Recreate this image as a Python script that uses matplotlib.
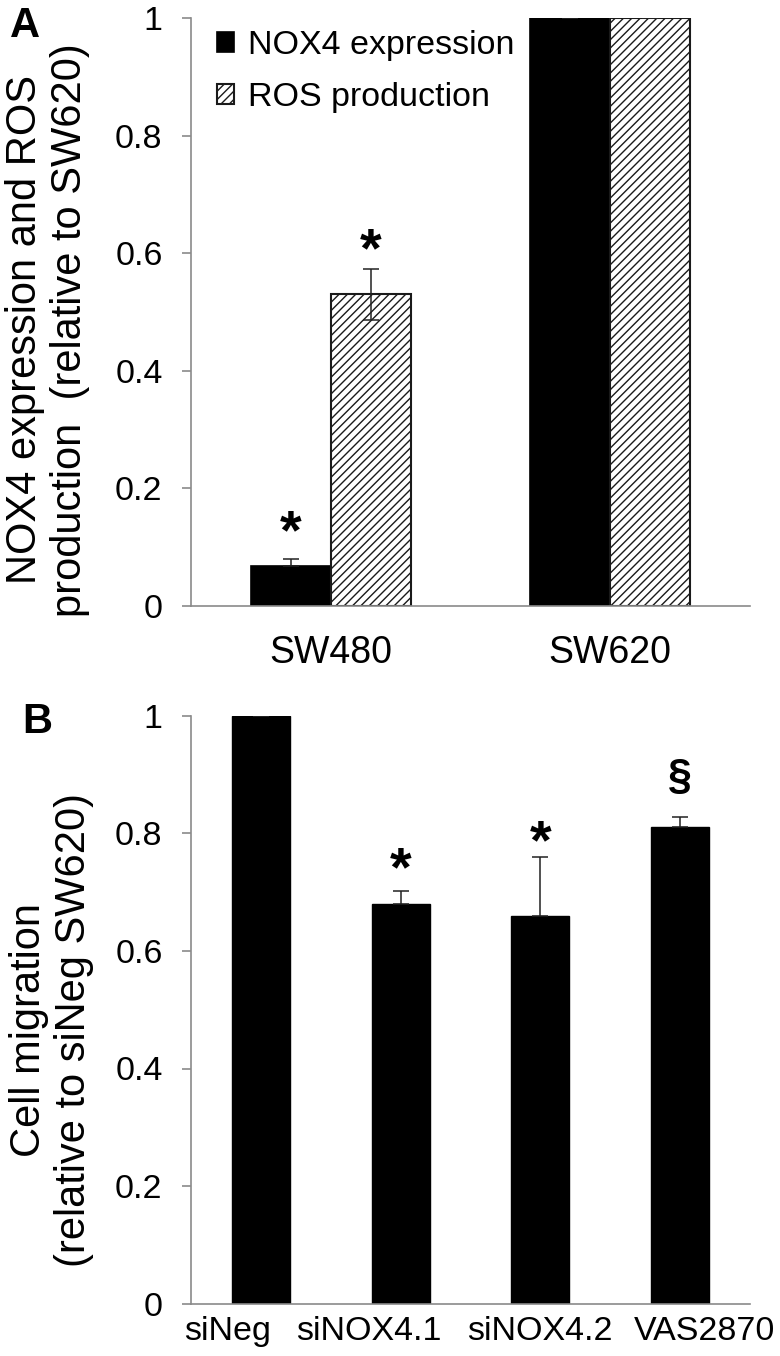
import numpy as np
import matplotlib
matplotlib.use("Agg")
import matplotlib.pyplot as plt
from matplotlib.transforms import ScaledTranslation

plt.rcParams['font.family'] = ['Liberation Sans', 'DejaVu Sans']
plt.rcParams['hatch.linewidth'] = 1.0

# panel A data
cells = ['SW480', 'SW620']
nox4 = [0.068, 1.0]
nox4_err = [0.012, 0.0]
ros = [0.53, 1.0]
ros_err = [0.043, 0.0]
star_a_nox4 = [0.15, None]
star_a_ros = [0.63, None]

# panel B data
groups = ['siNeg', 'siNOX4.1', 'siNOX4.2', 'VAS2870']
migration = [1.0, 0.68, 0.66, 0.811]
migration_err = [0.0, 0.022, 0.10, 0.017]
marks_b = ['', '*', '*', '\u00a7']
marks_b_y = [None, 0.764, 0.81, 0.896]

yticks = [0, 0.2, 0.4, 0.6, 0.8, 1]
yticklabels = ['0', '0.2', '0.4', '0.6', '0.8', '1']

grey = '#8a8a8a'
W, H = 780, 1356
fig = plt.figure(figsize=(W/100, H/100), dpi=100)


def style_axes(ax):
    ax.set_ylim(0, 1)
    ax.set_yticks(yticks)
    ax.set_yticklabels(yticklabels)
    for s in ['top', 'right']:
        ax.spines[s].set_visible(False)
    for s in ['left', 'bottom']:
        ax.spines[s].set_color(grey)
        ax.spines[s].set_linewidth(1.2)
    ax.tick_params(axis='y', direction='out', length=6.5, width=1.2,
                   color=grey, pad=14, labelsize=24.5)
    ax.tick_params(axis='x', length=0)


def mark(ax, x, y, s, fs):
    # glyph centre sits about 0.55 em above the baseline for '*'
    off = 0.55 if s == '*' else 0.26
    ax.annotate(s, xy=(x, y), xytext=(0, -off*fs), textcoords='offset points',
                ha='center', va='baseline', fontsize=fs, fontweight='bold')


# ---------------- panel A ----------------
axA = fig.add_axes([191/W, 1-606/H, 559/W, 588/H])
x = np.arange(len(cells))
w = 0.286
b1 = axA.bar(x - w/2, nox4, w, color='black', edgecolor='black', linewidth=1.2,
             label='NOX4 expression')
b2 = axA.bar(x + w/2, ros, w, color='white', edgecolor='#1a1a1a', linewidth=1.5,
             hatch='////', label='ROS production')
# only the upper half shows above a black bar
axA.errorbar(x - w/2, nox4, yerr=[np.zeros(len(nox4)), nox4_err], fmt='none',
             ecolor='#222222', elinewidth=1.1, capsize=6, capthick=1.1)
axA.errorbar(x + w/2, ros, yerr=ros_err, fmt='none', ecolor='#222222',
             elinewidth=1.1, capsize=6, capthick=1.1)
for i in range(len(cells)):
    if star_a_nox4[i] is not None:
        mark(axA, x[i] - w/2, star_a_nox4[i], '*', 40)
    if star_a_ros[i] is not None:
        mark(axA, x[i] + w/2, star_a_ros[i], '*', 40)
axA.set_xlim(-0.5, len(cells) - 0.5)
axA.set_xticks(x)
axA.set_xticklabels(cells)
style_axes(axA)
axA.tick_params(axis='x', labelsize=27, pad=21)
axA.set_ylabel('NOX4 expression and ROS\nproduction  (relative to SW620)',
               fontsize=30, va='center', linespacing=1.15)
axA.yaxis.set_label_coords(-0.257, 0.47)
fig.legend(handles=[b1, b2], loc='upper left',
           bbox_to_anchor=(217/W, 1-30/H), frameon=False, fontsize=24.5,
           handlelength=0.5, handleheight=0.5, handletextpad=0.4,
           labelspacing=0.62, borderpad=0, borderaxespad=0)

# ---------------- panel B ----------------
axB = fig.add_axes([191/W, 1-1303.5/H, 559/W, 587.5/H])
xb = np.arange(len(groups))
wb = 0.414
axB.bar(xb, migration, wb, color='black', edgecolor='black', linewidth=1)
axB.errorbar(xb, migration, yerr=[np.zeros(len(migration)), migration_err],
             fmt='none', ecolor='#222222', elinewidth=1.1, capsize=6, capthick=1.1)
for i in range(len(groups)):
    if marks_b[i]:
        mark(axB, xb[i], marks_b_y[i], marks_b[i], 40 if marks_b[i] == '*' else 31)
axB.set_xlim(-0.5, len(groups) - 0.5)
axB.set_xticks(xb)
axB.set_xticklabels(groups)
style_axes(axB)
axB.tick_params(axis='x', labelsize=24.5, pad=9)
# labels are spread out a little so they do not collide
shifts = [-33, -32, -1, 24]
for lab, dx in zip(axB.get_xticklabels(), shifts):
    lab.set_transform(lab.get_transform() + ScaledTranslation(dx/100, 0, fig.dpi_scale_trans))
axB.set_ylabel('Cell migration\n(relative to siNeg SW620)', fontsize=30,
               va='center', linespacing=1.15)
axB.yaxis.set_label_coords(-0.25, 0.466)

fig.text(10/W, 1-37/H, 'A', fontsize=30, fontweight='bold', va='baseline')
fig.text(22/W, 1-733/H, 'B', fontsize=30, fontweight='bold', va='baseline')

fig.savefig('out.png', dpi=100)
